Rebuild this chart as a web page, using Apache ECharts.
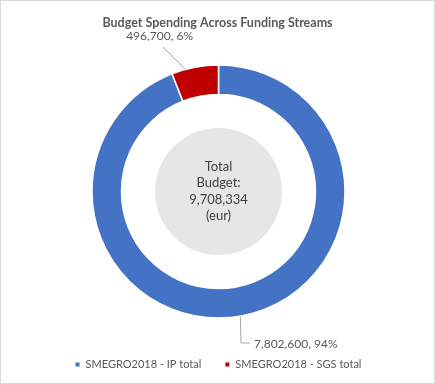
<!DOCTYPE html>
<html>
<head>
<meta charset="utf-8">
<script src="https://cdn.jsdelivr.net/npm/echarts@6/dist/echarts.min.js"></script>
<style>
html,body{margin:0;padding:0;background:#fff;}
#chart{width:435px;height:384px;box-sizing:border-box;border:1px solid #d9d9d9;}
</style>
</head>
<body>
<div id="chart"></div>
<script>
var categories = ['SMEGRO2018 - IP total', 'SMEGRO2018 - SGS total'];
var values = [7802600, 496700];
var colors = ['#4472C4', '#C00000'];
var centerText = ['Total', 'Budget:', '9,708,334', '(eur)'];
var titleText = 'Budget Spending Across Funding Streams';

var FONT = 'Lato, "Open Sans", sans-serif';
var chart = echarts.init(document.getElementById('chart'));
var labelPos = [
  {x: 253, y: 343, align: 'left', line: [[239, 300], [240, 342], [249, 342]]},
  {x: 192, y: 35, align: 'right', line: [[197, 82], [180, 64], [162, 46]]}
];
chart.setOption({
  animation: false,
  title: {
    text: titleText, left: 'center', top: 10,
    textStyle: {fontFamily: FONT, fontSize: 12.5, fontWeight: 'bold', color: '#595959'}
  },
  legend: {
    data: categories, bottom: 8, left: 'center',
    icon: 'rect', itemWidth: 6, itemHeight: 6, itemGap: 22,
    textStyle: {fontFamily: FONT, fontSize: 11, color: '#595959'}
  },
  series: [
    {
      type: 'pie',
      center: [217.5, 190.5],
      radius: [0, 63.5],
      silent: true,
      z: 1,
      data: [{value: 1, name: 'center', itemStyle: {color: '#E7E6E6'}}],
      label: {
        show: true, position: 'center',
        formatter: centerText.join('\n'),
        fontFamily: FONT, fontSize: 13, lineHeight: 16.5, color: '#404040'
      },
      labelLine: {show: false},
      emphasis: {disabled: true}
    },
    {
      type: 'pie',
      center: [217.5, 190.5],
      radius: [97, 126.5],
      startAngle: 90,
      clockwise: true,
      data: categories.map(function (c, i) {
        return {name: c, value: values[i], itemStyle: {color: colors[i]}};
      }),
      itemStyle: {borderColor: '#fff', borderWidth: 1.5},
      label: {
        show: true, position: 'outside',
        fontFamily: FONT, fontSize: 12, color: '#595959',
        formatter: function (p) {
          return p.value.toLocaleString('en-US') + ', ' + Math.round(p.percent) + '%';
        }
      },
      labelLine: {show: true, lineStyle: {color: '#a6a6a6', width: 1}},
      labelLayout: function (p) {
        var lp = labelPos[p.dataIndex];
        return {x: lp.x, y: lp.y, align: lp.align, verticalAlign: 'middle', labelLinePoints: lp.line};
      },
      emphasis: {disabled: true}
    }
  ]
});
</script>
</body>
</html>
